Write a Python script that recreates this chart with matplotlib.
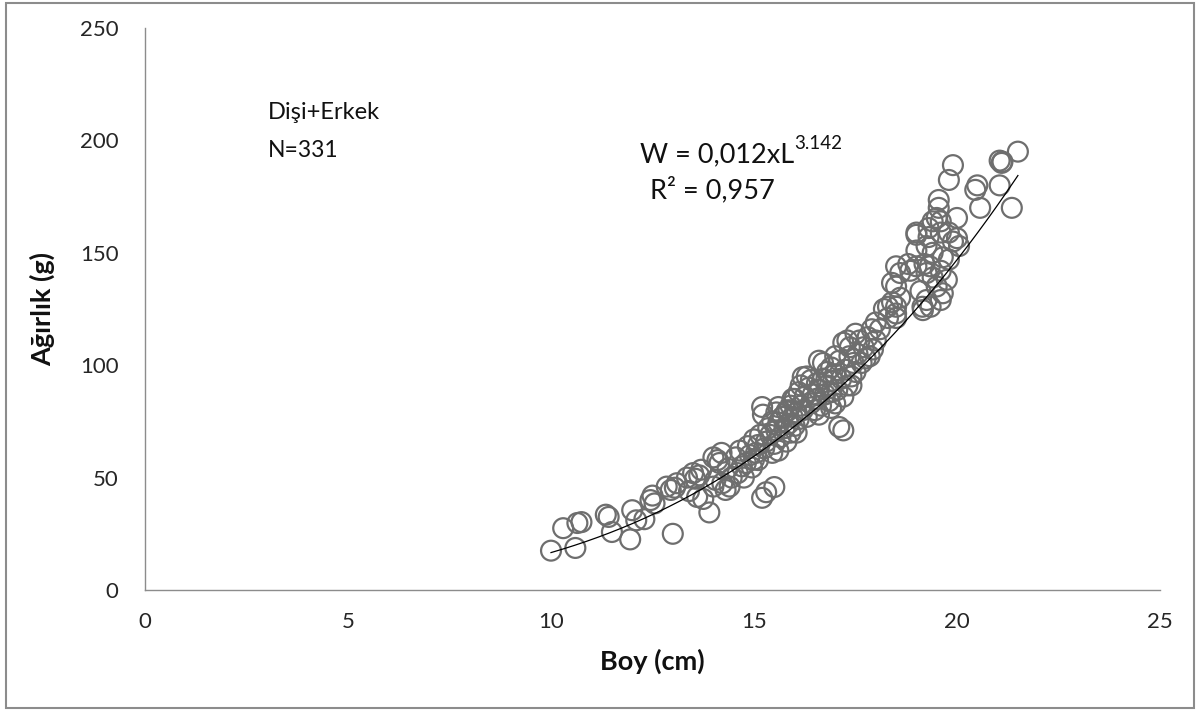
import matplotlib
matplotlib.use("Agg")
import matplotlib.pyplot as plt
from matplotlib.patches import Rectangle
import numpy as np

plt.rcParams["font.family"] = ["Lato", "DejaVu Sans"]

# Length (cm) and weight (g) measurements, grouped by length range
boy_a = [10.0, 10.3, 10.6, 10.65, 10.75, 11.35, 11.42, 11.5, 11.95, 12.0,
         12.1, 12.3, 12.45, 12.5, 12.55, 12.85, 12.95, 13.0, 13.05, 13.1,
         13.35, 13.4, 13.5, 13.55, 13.6, 13.65, 13.7, 13.75, 13.9, 14.0,
         14.0, 14.05, 14.1, 14.15, 14.2, 14.22, 14.3, 14.35, 14.4, 14.45]
agirlik_a = [17.5, 27.5, 18.7, 29.8, 30.2, 33.5, 32.5, 25.8, 22.5, 35.5,
             31.0, 31.5, 40.0, 42.0, 38.5, 46.0, 44.5, 25.0, 45.5, 47.5,
             50.0, 44.0, 52.0, 49.5, 41.4, 51.0, 53.5, 40.5, 34.5, 59.0,
             46.0, 49.0, 57.8, 56.5, 61.0, 47.5, 44.5, 54.0, 46.0, 50.0]

boy_b = [14.55, 14.6, 14.65, 14.7, 14.75, 14.8, 14.85, 14.9, 14.95, 15.0,
         15.0, 15.05, 15.1, 15.1, 15.15, 15.2, 15.2, 15.22, 15.25, 15.3,
         15.3, 15.35, 15.4, 15.45, 15.45, 15.5, 15.5, 15.55, 15.6, 15.6,
         15.6, 15.65]
agirlik_b = [59.0, 52.0, 62.0, 55.0, 50.0, 56.5, 64.0, 60.0, 54.5, 67.0,
             58.0, 61.0, 64.5, 57.8, 69.0, 41.0, 81.4, 78.0, 63.0, 66.0,
             43.5, 72.0, 69.0, 61.0, 75.0, 45.8, 65.0, 71.0, 81.4, 74.5,
             62.0, 68.0]

boy_c = [15.7, 15.75, 15.8, 15.8, 15.85, 15.9, 15.9, 15.95, 16.0, 16.0,
         16.05, 16.1, 16.1, 16.15, 16.2, 16.2, 16.25, 16.3, 16.35, 16.4,
         16.4, 16.45, 16.5, 16.55, 16.55, 16.6, 16.6, 16.65, 16.7, 16.7,
         16.75, 16.8, 16.8, 16.85, 16.9, 16.9, 16.95, 17.0, 17.0, 17.05,
         17.1, 17.1, 17.15, 17.2, 17.2, 17.2, 17.25, 17.3, 17.3, 17.35,
         17.36, 17.4, 17.45, 17.5, 17.5, 17.55, 17.6, 17.65, 17.7, 17.75,
         15.85, 16.05, 16.3, 16.6, 16.9, 17.0, 17.4, 16.15, 15.55, 15.95]
agirlik_c = [77.0, 72.0, 79.5, 66.0, 74.0, 82.0, 70.0, 77.0, 85.0, 73.0,
             79.0, 88.0, 76.0, 82.0, 94.7, 80.0, 86.0, 77.0, 90.0, 93.4,
             83.0, 87.0, 80.0, 92.0, 85.0, 102.0, 89.0, 82.0, 101.0, 94.0,
             87.0, 91.0, 97.0, 84.0, 81.0, 99.0, 93.0, 83.0, 96.0, 89.0,
             72.5, 102.0, 94.0, 71.0, 110.0, 86.0, 98.0, 111.0, 91.0, 104.0,
             108.0, 95.0, 101.0, 114.0, 97.0, 105.0, 111.0, 101.0, 108.0, 103.0,
             80.0, 70.0, 95.0, 78.0, 88.0, 104.0, 91.0, 91.0, 79.0, 85.0]

boy_d = [17.8, 17.85, 17.9, 17.93, 18.0, 18.0, 18.1, 18.2, 18.3, 18.3,
         18.4, 18.5, 18.5, 18.5, 18.5, 18.5, 18.6, 18.6, 18.8, 18.85,
         19.0, 19.0, 19.0, 19.0, 19.1, 19.15, 19.2, 19.25, 19.25, 19.25,
         19.3, 19.3, 19.33, 19.35, 19.4, 19.4, 19.4, 19.5, 19.55, 19.55,
         19.6, 19.6, 19.6, 19.6, 19.65, 19.75, 19.8, 19.8, 19.9, 19.9,
         20.0, 20.0, 20.05, 20.45, 20.5, 20.57, 21.05, 21.1, 21.12, 21.05,
         21.35, 21.5, 19.65, 19.8, 19.5, 18.4, 19.16]
agirlik_d = [112.5, 104.0, 116.0, 107.0, 111.0, 119.0, 116.0, 125.0, 121.0, 126.0,
             128.0, 123.0, 121.0, 126.0, 135.0, 144.0, 130.0, 141.0, 145.0, 142.0,
             144.0, 151.0, 158.0, 159.0, 133.0, 126.0, 145.0, 129.0, 141.0, 153.0,
             157.0, 161.0, 144.0, 126.0, 139.0, 150.0, 164.0, 165.5, 170.0, 173.5,
             142.0, 129.0, 159.0, 164.0, 132.0, 138.0, 182.4, 159.0, 189.0, 155.0,
             165.5, 156.5, 153.0, 178.0, 180.0, 170.0, 191.0, 190.0, 190.5, 180.0,
             170.0, 195.0, 148.0, 147.0, 135.0, 136.6, 124.5]

boy = boy_a + boy_b + boy_c + boy_d
agirlik = agirlik_a + agirlik_b + agirlik_c + agirlik_d

# Power trendline W = a * L^b
katsayi_a = 0.012
us_b = 3.142
r_kare = 0.957
trend_bas, trend_son = 10.0, 21.5

x_ticks = [0, 5, 10, 15, 20, 25]
y_ticks = [0, 50, 100, 150, 200, 250]

fig = plt.figure(figsize=(12.01, 7.10), dpi=100)
ax = fig.add_axes([145 / 1201, 1 - 590 / 710, (1160 - 145) / 1201, (590 - 28) / 710])

ax.scatter(boy, agirlik, s=205, facecolors="none", edgecolors="#6e6e6e",
           linewidths=1.6, zorder=2)

xs = np.linspace(trend_bas, trend_son, 200)
ax.plot(xs, katsayi_a * xs ** us_b, color="black", linewidth=0.9, zorder=3)

ax.set_xlim(0, 25)
ax.set_ylim(0, 250)
ax.set_xticks(x_ticks)
ax.set_yticks(y_ticks)
ax.tick_params(length=0, labelsize=16, colors="#262626")
ax.tick_params(axis="x", pad=16)
ax.tick_params(axis="y", pad=19)

for side in ("top", "right"):
    ax.spines[side].set_visible(False)
for side in ("left", "bottom"):
    ax.spines[side].set_color("#8c8c8c")
    ax.spines[side].set_linewidth(1.0)

ax.set_xlabel("Boy (cm)", fontsize=19.5, fontweight="bold", labelpad=12, color="#111111")
ax.set_ylabel("Ağırlık (g)", fontsize=19.5, fontweight="bold", labelpad=18, color="#111111")

ax.text(3.03, 212.5, "Dişi+Erkek", fontsize=17, ha="left", va="center", color="#111111")
ax.text(3.03, 195.5, "N=331", fontsize=16.5, ha="left", va="center", color="#111111")

t_eq = ax.text(12.2, 193.5, "W = 0,012xL", fontsize=19.5, ha="left", va="center", color="#111111")
ax.annotate("3.142", xy=(1.0, 0.95), xycoords=t_eq, fontsize=13.5,
            ha="left", va="center", color="#111111")
ax.text(12.45, 178, "R² = 0,957", fontsize=19.5, ha="left", va="center", color="#111111")

# outer chart border
fig.patches.append(Rectangle((6 / 1201, 2 / 710), 1188 / 1201, 705 / 710,
                             transform=fig.transFigure, fill=False,
                             edgecolor="#8c8c8c", linewidth=1.5))

fig.savefig("out.png", dpi=100)
